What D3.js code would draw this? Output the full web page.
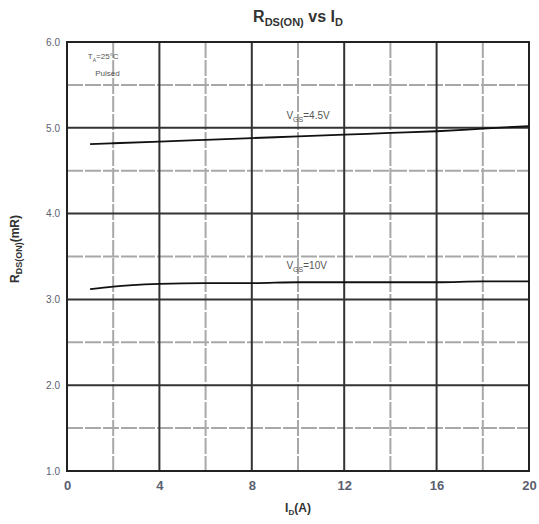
<!DOCTYPE html>
<html>
<head>
<meta charset="utf-8">
<script src="https://cdnjs.cloudflare.com/ajax/libs/d3/7.8.5/d3.min.js"></script>
<style>
  body { margin: 0; background: #fff; }
  text { font-family: "Liberation Sans", Arial, sans-serif; }
</style>
</head>
<body>
<svg width="539" height="524"></svg>
<script>
// Data
var currentA = [1, 2, 4, 6, 8, 10, 12, 14, 16, 18, 20];
var rdsVgs45 = [4.81, 4.82, 4.84, 4.86, 4.88, 4.90, 4.92, 4.94, 4.96, 4.99, 5.02];
var rdsVgs10 = [3.12, 3.15, 3.18, 3.19, 3.19, 3.20, 3.20, 3.20, 3.20, 3.21, 3.21];
var xTicks = [0, 4, 8, 12, 16, 20];
var yTicks = [1, 2, 3, 4, 5, 6];
var xMinor = [2, 6, 10, 14, 18];
var yMinor = [1.5, 2.5, 3.5, 4.5, 5.5];

var svg = d3.select('svg');
var margin = {t: 42, r: 10, b: 53, l: 67};
var width = 539 - margin.l - margin.r;
var height = 524 - margin.t - margin.b;

var g = svg.append('g')
    .attr('transform', 'translate(' + [margin.l, margin.t] + ')');

var x = d3.scaleLinear().domain([0, 20]).range([0, width]);
var y = d3.scaleLinear().domain([1, 6]).range([height, 0]);

// minor grid
g.selectAll('.vminor').data(xMinor).enter().append('line')
    .attr('x1', x).attr('x2', x).attr('y1', 0).attr('y2', height)
    .attr('stroke', '#a8a8a8').attr('stroke-width', 2)
    .attr('stroke-dasharray', '16,2');
g.selectAll('.hminor').data(yMinor).enter().append('line')
    .attr('x1', 0).attr('x2', width).attr('y1', y).attr('y2', y)
    .attr('stroke', '#a8a8a8').attr('stroke-width', 2)
    .attr('stroke-dasharray', '16,2');

// major grid
g.selectAll('.vmajor').data(xTicks).enter().append('line')
    .attr('x1', x).attr('x2', x).attr('y1', 0).attr('y2', height)
    .attr('stroke', '#333').attr('stroke-width', 2);
g.selectAll('.hmajor').data(yTicks).enter().append('line')
    .attr('x1', 0).attr('x2', width).attr('y1', y).attr('y2', y)
    .attr('stroke', '#333').attr('stroke-width', 2);

// frame
g.append('rect').attr('width', width).attr('height', height)
    .attr('fill', 'none').attr('stroke', '#222').attr('stroke-width', 2);

// axes (labels only)
var xAxis = g.append('g').attr('transform', 'translate(0,' + height + ')')
    .call(d3.axisBottom(x).tickValues(xTicks).tickSize(0).tickPadding(10));
var yAxis = g.append('g')
    .call(d3.axisLeft(y).tickValues(yTicks).tickSize(0).tickPadding(7)
        .tickFormat(d3.format('.1f')));
[xAxis, yAxis].forEach(function(a) {
    a.select('.domain').remove();
    a.selectAll('text').attr('fill', '#5a6070').style('font-family', '"Liberation Sans", Arial, sans-serif');
});
xAxis.selectAll('text').style('font-size', '13px').attr('font-weight', 'bold');
yAxis.selectAll('text').style('font-size', '10px');

// curves
var line = d3.line()
    .x(function(d) { return x(d[0]); })
    .y(function(d) { return y(d[1]); })
    .curve(d3.curveMonotoneX);
[rdsVgs45, rdsVgs10].forEach(function(s) {
    g.append('path')
        .datum(currentA.map(function(c, i) { return [c, s[i]]; }))
        .attr('d', line)
        .attr('fill', 'none').attr('stroke', '#111').attr('stroke-width', 1.8);
});

// annotations
function subLabel(px, py, main, sub, rest, size) {
    var t = g.append('text').attr('x', px).attr('y', py)
        .attr('fill', '#555').style('font-size', size + 'px');
    t.append('tspan').text(main);
    t.append('tspan').attr('dy', 3).style('font-size', (size - 3) + 'px').text(sub);
    t.append('tspan').attr('dy', -3).text(rest);
    return t;
}
subLabel(x(9.5), y(5.1), 'V', 'GS', '=4.5V', 10);
subLabel(x(9.5), y(3.35), 'V', 'GS', '=10V', 10);
subLabel(x(0.9), y(5.8), 'T', 'A', '=25°C', 8);
g.append('text').attr('x', x(1.75)).attr('y', y(5.6)).attr('text-anchor', 'middle')
    .attr('fill', '#555').style('font-size', '8px').text('Pulsed');

// title
var title = svg.append('text').attr('x', 298).attr('y', 22).attr('text-anchor', 'middle')
    .attr('font-weight', 'bold').attr('fill', '#333').style('font-size', '16px');
title.append('tspan').text('R');
title.append('tspan').attr('dy', 4).style('font-size', '11px').text('DS(ON)');
title.append('tspan').attr('dy', -4).text(' vs I');
title.append('tspan').attr('dy', 4).style('font-size', '11px').text('D');

// x label
var xl = svg.append('text').attr('x', 298).attr('y', 512).attr('text-anchor', 'middle')
    .attr('font-weight', 'bold').attr('fill', '#333').style('font-size', '12px');
xl.append('tspan').text('I');
xl.append('tspan').attr('dy', 3).style('font-size', '8px').text('D');
xl.append('tspan').attr('dy', -3).text('(A)');

// y label
var yl = svg.append('text').attr('transform', 'translate(19,' + 249 + ') rotate(-90)')
    .attr('text-anchor', 'middle').attr('font-weight', 'bold').attr('fill', '#333')
    .style('font-size', '12px');
yl.append('tspan').text('R');
yl.append('tspan').attr('dy', 3).style('font-size', '9px').text('DS(ON)');
yl.append('tspan').attr('dy', -3).text('(mR)');
</script>
</body>
</html>
